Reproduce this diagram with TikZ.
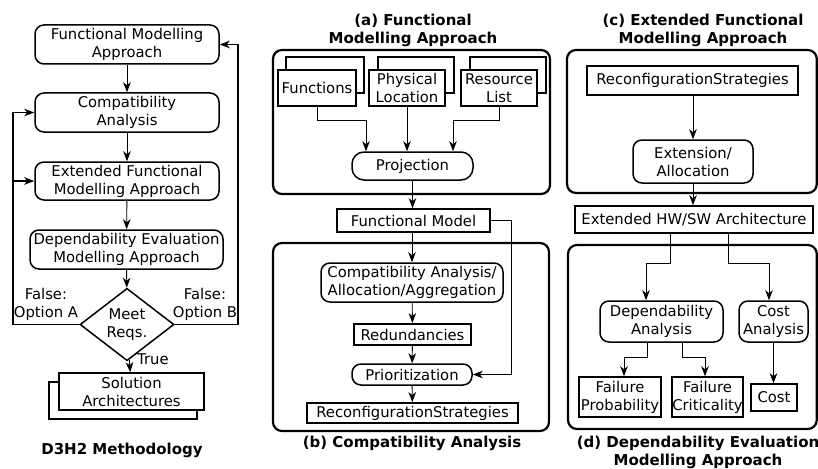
\documentclass[tikz,border=0pt]{standalone}
\usepackage{fontspec}
\setmainfont{DejaVu Sans}
\usetikzlibrary{shapes.geometric,arrows.meta,calc}
\begin{document}
\begin{tikzpicture}[x=1pt,y=-1pt,
  font=\fontsize{14.8}{18}\selectfont,
  box/.style={draw,line width=1.5pt,rectangle,inner sep=0pt,align=center,fill=white},
  rbox/.style={box,rounded corners=9pt},
  cont/.style={draw,line width=2.2pt,rounded corners=9pt},
  arr/.style={draw,line width=0.9pt,-{Stealth[length=10pt,width=7.5pt,inset=3pt]}},
  ttl/.style={font=\fontsize{15}{18}\selectfont\bfseries,align=center,inner sep=0pt},
  lbl/.style={align=center,inner sep=0pt}]
\useasboundingbox (0,0) rectangle (818,468);

% ---------------- left column ----------------
\node[rbox,minimum width=184pt,minimum height=39pt] (l1) at (127,44.5) {Functional Modelling\\Approach};
\node[rbox,minimum width=184pt,minimum height=39pt] (l2) at (127,112.5) {Compatibility\\Analysis};
\node[rbox,minimum width=184pt,minimum height=38pt] (l3) at (127,181) {Extended Functional\\Modelling Approach};
\node[rbox,minimum width=193pt,minimum height=39pt] (l4) at (126.5,249.5) {Dependability Evaluation\\Modelling Approach};
\node[draw,line width=1.5pt,diamond,minimum width=94pt,minimum height=57pt,inner sep=0pt,align=center] (dia) at (127,324.5) {Meet\\Reqs.};
\node[box,minimum width=148pt,minimum height=37pt] (solb) at (123,400.5) {};
\node[box,minimum width=145pt,minimum height=37pt] (sol) at (131.5,391.5) {Solution\\Architectures};
\node[ttl] (d3h2) at (122,450) {D3H2 Methodology};
\node[lbl] (fa) at (46,304) {False:\\Option A};
\node[lbl] (fb) at (205,304) {False:\\Option B};
\node[lbl,anchor=west] (tru) at (137,359) {True};
\coordinate (lx) at (13,0);
\coordinate (rx) at (238,0);
\coordinate (lj) at (13,181);

\draw[arr] (l1) -- (l2);
\draw[arr] (l2) -- (l3);
\draw[arr] (l3) -- (l4);
\draw[arr] (l4) -- (dia);
\draw[arr] (dia) -- (sol);
\draw[arr,line width=1.5pt] (dia.west) -- (dia.west -| lx) |- (l2.west);
\draw[arr,line width=1.5pt] (lj) -- (l3.west);
\draw[arr,line width=1.5pt] (dia.east) -- (dia.east -| rx) |- (l1.east);

% ---------------- middle column ----------------
\node[ttl] (ta) at (413,30) {(a) Functional\\Modelling Approach};
\draw[cont] (273,50) rectangle (550,194);
\node[box,minimum width=78pt,minimum height=36pt] (fnb) at (325,75) {};
\node[box,minimum width=78pt,minimum height=36pt] (fn) at (317,88) {Functions};
\node[box,minimum width=76pt,minimum height=36pt] (plb) at (416,75) {};
\node[box,minimum width=76pt,minimum height=36pt] (pl) at (407,88) {Physical\\Location};
\node[box,minimum width=76pt,minimum height=36pt] (rlb) at (508,75) {};
\node[box,minimum width=76pt,minimum height=36pt] (rl) at (499,88) {Resource\\List};
\node[box,rounded corners=12pt,minimum width=121pt,minimum height=28pt] (proj) at (412.5,166) {Projection};
\node[box,minimum width=153pt,minimum height=23pt] (fm) at (413.5,220.5) {Functional Model};
\draw[arr] (fn.south) -- ++(0,14) -| ([xshift=-46.5pt]proj.north);
\draw[arr] (pl.south) -- (pl.south |- proj.north);
\draw[arr] (rl.south) -- ++(0,14) -| ([xshift=40.5pt]proj.north);
\draw[arr] (proj.south) -- (proj.south |- fm.north);

\draw[cont] (273,243) rectangle (549,431);
\node[rbox,minimum width=182pt,minimum height=39pt] (ca) at (412,282.5) {Compatibility Analysis/\\Allocation/Aggregation};
\node[box,line width=1.8pt,minimum width=117pt,minimum height=21pt] (red) at (412.5,334.5) {Redundancies};
\node[rbox,minimum width=120pt,minimum height=21pt] (prio) at (412,374.5) {Prioritization};
\node[box,line width=1.8pt,minimum width=211pt,minimum height=20pt] (rsb) at (412.5,413) {ReconfigurationStrategies};
\node[ttl] (tb) at (412,443) {(b) Compatibility Analysis};
\draw[arr] (fm.south -| ca.north) -- (ca.north);
\draw[arr] (ca) -- (red);
\draw[arr] (red) -- (prio);
\draw[arr] (prio) -- (rsb);
\draw[arr] (fm.east) -- ++(21,0) |- (prio.east);

% ---------------- right column ----------------
\node[ttl] (tc) at (703,30) {(c) Extended Functional\\Modelling Approach};
\draw[cont] (567,50) rectangle (816.8,193);
\node[box,line width=2.4pt,minimum width=211pt,minimum height=29pt] (rsc) at (692.5,80.5) {ReconfigurationStrategies};
\node[rbox,minimum width=120pt,minimum height=43pt] (ext) at (693,161.5) {Extension/\\Allocation};
\node[box,minimum width=238pt,minimum height=27pt] (hw) at (694,219.5) {Extended HW/SW Architecture};
\draw[arr] (rsc.south -| ext.north) -- (ext.north);
\draw[arr] (ext.south) -- (ext.south |- hw.north);

\draw[cont] (568,245) rectangle (816.8,429);
\node[rbox,minimum width=123pt,minimum height=41pt] (dep) at (661.5,321.5) {Dependability\\Analysis};
\node[rbox,minimum width=69pt,minimum height=41pt] (cst) at (773.5,321.5) {Cost\\Analysis};
\node[box,minimum width=82pt,minimum height=40pt] (fp) at (620,397) {Failure\\Probability};
\node[box,minimum width=71pt,minimum height=40pt] (fc) at (707.5,397) {Failure\\Criticality};
\node[box,minimum width=46pt,minimum height=27pt] (cost) at (774,397.5) {Cost};
\node[ttl] (td) at (698,452) {(d) Dependability Evaluation\\Modelling Approach};
\draw[arr] ([xshift=-24pt]hw.south) -- ++(0,30) -| ([xshift=-15.5pt]dep.north);
\draw[arr] ([xshift=34pt]hw.south) -- ++(0,30) -| ([xshift=-4.5pt]cst.north);
\draw[arr] ([xshift=-14.5pt]dep.south) -- ++(0,15) -| ([xshift=4pt]fp.north);
\draw[arr] ([xshift=20.5pt]dep.south) -- ++(0,15) -| ([xshift=-2.5pt]fc.north);
\draw[arr] (cst.south) -- (cst.south |- cost.north);
\end{tikzpicture}
\end{document}
